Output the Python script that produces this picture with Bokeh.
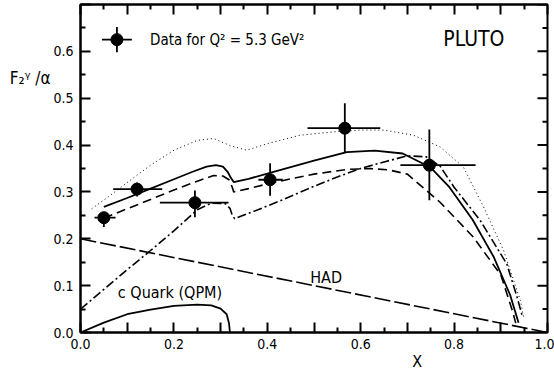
from bokeh.plotting import figure
from bokeh.models import ColumnDataSource, Label, LinearAxis, FixedTicker, Range1d
from bokeh.embed import file_html
from bokeh.resources import INLINE

FONT = "DejaVu Sans Condensed"

# ---- measured data points (bin edges and error ranges) ----
data_x = [0.050, 0.121, 0.245, 0.406, 0.566, 0.747]
data_y = [0.245, 0.306, 0.277, 0.326, 0.436, 0.357]
data_xlo = [0.030, 0.070, 0.170, 0.381, 0.486, 0.685]
data_xhi = [0.075, 0.175, 0.317, 0.433, 0.642, 0.846]
data_ylo = [0.225, 0.290, 0.246, 0.292, 0.385, 0.282]
data_yhi = [0.257, 0.320, 0.303, 0.361, 0.489, 0.433]

# ---- model curves ----
solid_x = [0.05, 0.10, 0.15, 0.20, 0.24, 0.27, 0.29, 0.305, 0.315, 0.322, 0.328, 0.36,
           0.40, 0.45, 0.50, 0.57, 0.63, 0.69, 0.75, 0.79, 0.84, 0.885, 0.92, 0.938]
solid_y = [0.268, 0.287, 0.307, 0.327, 0.343, 0.354, 0.357, 0.354, 0.343, 0.330, 0.321, 0.328,
           0.339, 0.353, 0.367, 0.385, 0.388, 0.382, 0.352, 0.310, 0.240, 0.161, 0.080, 0.021]

dashed_x = [0.05, 0.10, 0.15, 0.20, 0.25, 0.285, 0.305, 0.318, 0.325, 0.328, 0.36, 0.40,
            0.45, 0.50, 0.57, 0.62, 0.66, 0.70, 0.77, 0.84, 0.90, 0.925, 0.932]
dashed_y = [0.244, 0.264, 0.284, 0.304, 0.323, 0.335, 0.334, 0.326, 0.310, 0.300, 0.307, 0.317,
            0.328, 0.338, 0.348, 0.350, 0.347, 0.338, 0.278, 0.205, 0.123, 0.046, 0.020]

dashdot_x = [0.0, 0.05, 0.10, 0.15, 0.20, 0.25, 0.28, 0.31, 0.32, 0.325, 0.33, 0.38, 0.43,
             0.49, 0.55, 0.60, 0.65, 0.70, 0.74, 0.77, 0.80, 0.856, 0.913, 0.935, 0.946]
dashdot_y = [0.050, 0.092, 0.134, 0.175, 0.217, 0.262, 0.276, 0.275, 0.265, 0.250, 0.243, 0.262, 0.282,
             0.308, 0.332, 0.350, 0.364, 0.377, 0.375, 0.355, 0.310, 0.239, 0.146, 0.075, 0.035]

dotted_x = [0.024, 0.06, 0.10, 0.15, 0.20, 0.25, 0.285, 0.32, 0.356, 0.40, 0.47, 0.54, 0.60,
            0.65, 0.713, 0.77, 0.82, 0.863, 0.906, 0.942, 0.949]
dotted_y = [0.264, 0.290, 0.320, 0.357, 0.389, 0.410, 0.414, 0.399, 0.389, 0.403, 0.421, 0.428, 0.432,
            0.432, 0.421, 0.396, 0.353, 0.268, 0.175, 0.068, 0.032]

cquark_x = [0.0, 0.05, 0.10, 0.15, 0.20, 0.25, 0.28, 0.30, 0.313, 0.318, 0.32]
cquark_y = [0.0, 0.021, 0.039, 0.049, 0.057, 0.0595, 0.058, 0.051, 0.039, 0.020, 0.0]

had_x = [0.0, 1.0]
had_y = [0.2, 0.0]

# ---- ticks and axis titles ----
x_major = [0.0, 0.1, 0.2, 0.3, 0.4, 0.5, 0.6, 0.7, 0.8, 0.9, 1.0]
x_minor = [0.05, 0.15, 0.25, 0.35, 0.45, 0.55, 0.65, 0.75, 0.85, 0.95]
x_labels = {0.0: "0.0", 0.1: "", 0.2: "0.2", 0.3: "", 0.4: "0.4", 0.5: "", 0.6: "0.6",
            0.7: "", 0.8: "0.8", 0.9: "", 1.0: "1.0"}
y_major = [0.0, 0.1, 0.2, 0.3, 0.4, 0.5, 0.6, 0.7]
y_minor = [0.05, 0.15, 0.25, 0.35, 0.45, 0.55, 0.65]
y_labels = {0.0: "0.0", 0.1: "0.1", 0.2: "0.2", 0.3: "0.3", 0.4: "0.4", 0.5: "0.5", 0.6: "0.6",
            0.7: ""}
x_title, x_title_at = "X", 0.721
y_title, y_title_at = "F₂ᵞ /α", 0.543

p = figure(width=554, height=373, x_range=Range1d(0, 1), y_range=Range1d(0, 0.7),
           output_backend="svg", toolbar_location=None,
           min_border_left=80, min_border_right=7, min_border_top=4, min_border_bottom=41)
p.grid.visible = False
p.outline_line_color = "black"
p.outline_line_width = 2
p.background_fill_color = "white"
p.border_fill_color = "white"

MAJ_LEN, MIN_LEN = 10, 5
TICK_COLOR = "black"

def style_axis(ax, ticks, minor, labels, show_labels=True):
    ax.ticker = FixedTicker(ticks=ticks, minor_ticks=minor)
    ax.axis_line_width = 2
    ax.axis_line_color = "black"
    ax.major_tick_in = MAJ_LEN
    ax.major_tick_out = 0
    ax.minor_tick_in = MIN_LEN
    ax.minor_tick_out = 0
    ax.major_tick_line_width = 2
    ax.minor_tick_line_width = 2
    ax.major_tick_line_color = TICK_COLOR
    ax.minor_tick_line_color = TICK_COLOR
    if show_labels:
        ax.major_label_overrides = labels
        ax.major_label_text_font = FONT
        ax.major_label_text_font_size = "14px"
        ax.major_label_text_color = "black"
    else:
        ax.major_label_overrides = {t: "" for t in ticks}
        ax.major_label_standoff = 0
        ax.axis_label_standoff = 0

style_axis(p.xaxis[0], x_major, x_minor, x_labels)
p.xaxis[0].major_label_standoff = 6
style_axis(p.yaxis[0], y_major, y_minor, y_labels)
p.yaxis[0].major_label_standoff = 7

top = LinearAxis()
style_axis(top, x_major, x_minor, None, show_labels=False)
p.add_layout(top, "above")

def title_axis(pos, text, size):
    ax = LinearAxis(ticker=FixedTicker(ticks=[pos], minor_ticks=[]),
                    major_label_overrides={pos: text})
    ax.axis_line_color = None
    ax.major_tick_line_color = None
    ax.minor_tick_line_color = None
    ax.major_tick_in = 0
    ax.major_tick_out = 0
    ax.minor_tick_in = 0
    ax.minor_tick_out = 0
    ax.major_label_standoff = 0
    ax.major_label_text_font = FONT
    ax.major_label_text_font_size = size
    ax.major_label_text_color = "black"
    return ax

p.add_layout(title_axis(x_title_at, x_title, "16px"), "below")
p.add_layout(title_axis(y_title_at, y_title, "17px"), "left")

# inward ticks along the right-hand frame edge, from the same tick lists
px_per_x = 467.0
x_end = p.x_range.end
p.segment(x0=[x_end] * len(y_major), y0=y_major,
          x1=[x_end - MAJ_LEN / px_per_x] * len(y_major), y1=y_major,
          line_color=TICK_COLOR, line_width=2)
p.segment(x0=[x_end] * len(y_minor), y0=y_minor,
          x1=[x_end - MIN_LEN / px_per_x] * len(y_minor), y1=y_minor,
          line_color=TICK_COLOR, line_width=2)

# ---- curves ----
p.line(had_x, had_y, line_color="black", line_width=1.6, line_dash="16 4")
p.line(cquark_x, cquark_y, line_color="black", line_width=1.8)
p.line(dotted_x, dotted_y, line_color="black", line_width=1.0, line_dash="1 3")
p.line(dashdot_x, dashdot_y, line_color="black", line_width=1.6, line_dash="9 3 2 3")
p.line(dashed_x, dashed_y, line_color="black", line_width=1.6, line_dash="9 5")
p.line(solid_x, solid_y, line_color="black", line_width=1.8)

# ---- data with error bars ----
src = ColumnDataSource(dict(x=data_x, y=data_y, xlo=data_xlo, xhi=data_xhi,
                            ylo=data_ylo, yhi=data_yhi))
p.segment(x0="xlo", y0="y", x1="xhi", y1="y", source=src, line_color="black", line_width=1.8)
p.segment(x0="x", y0="ylo", x1="x", y1="yhi", source=src, line_color="black", line_width=1.8)
p.scatter("x", "y", source=src, marker="circle", size=12, fill_color="black", line_color="black")

# ---- legend sample ----
leg_x, leg_y, leg_dx, leg_dy = 0.078, 0.625, 0.032, 0.027
p.segment(x0=[leg_x - leg_dx], y0=[leg_y], x1=[leg_x + leg_dx], y1=[leg_y],
          line_color="black", line_width=1.8)
p.segment(x0=[leg_x], y0=[leg_y - leg_dy], x1=[leg_x], y1=[leg_y + leg_dy],
          line_color="black", line_width=1.8)
p.scatter([leg_x], [leg_y], marker="circle", size=12, fill_color="black", line_color="black")

def lab(x, y, text, size, align="left", baseline="middle"):
    p.add_layout(Label(x=x, y=y, text=text, text_font=FONT, text_font_size=size,
                       text_color="black", text_align=align, text_baseline=baseline))

lab(0.149, 0.625, "Data  for  Q² = 5.3 GeV²", "15px")
lab(0.777, 0.626, "PLUTO", "21px")
lab(0.080, 0.086, "c  Quark (QPM)", "16px")
lab(0.492, 0.117, "HAD", "16px")

open("out.html", "w").write(file_html(p, INLINE))
